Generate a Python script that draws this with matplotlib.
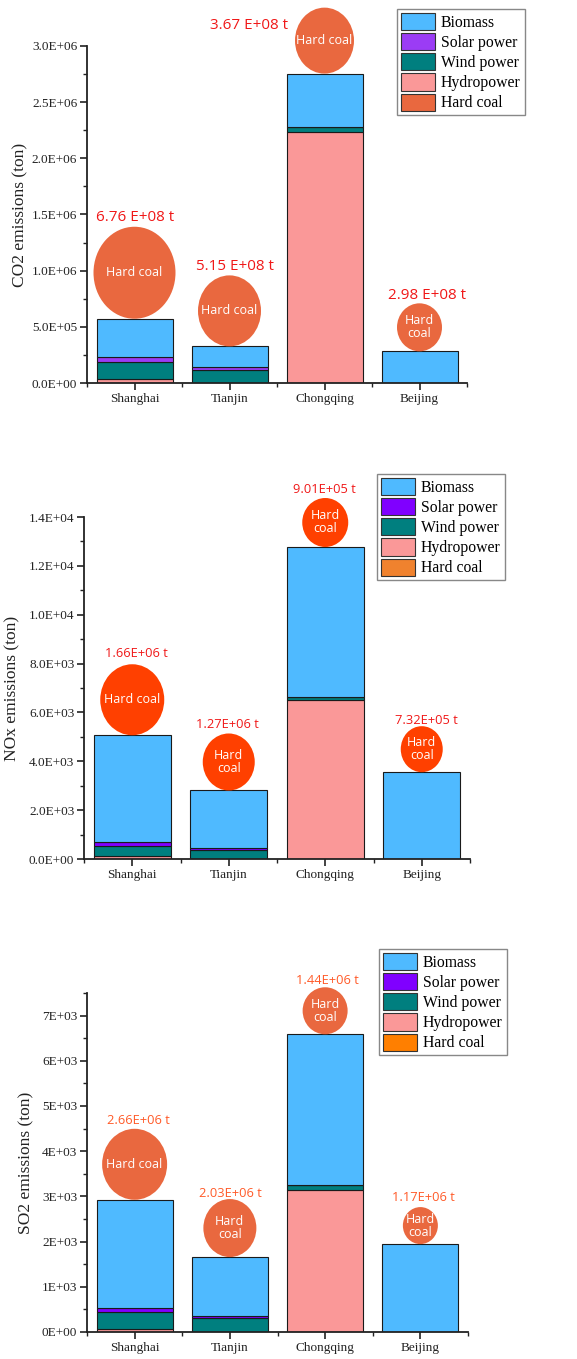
import matplotlib
matplotlib.use("Agg")
import matplotlib.pyplot as plt
from matplotlib.patches import Ellipse, Patch
from matplotlib.ticker import FuncFormatter, MultipleLocator

cities = ["Shanghai", "Tianjin", "Chongqing", "Beijing"]
sources = ["Biomass", "Solar power", "Wind power", "Hydropower", "Hard coal"]

# emissions in ton, stacked bottom to top: hydro, wind, solar, biomass
co2_hydro = [33e3, 0, 2.238e6, 0]
co2_wind = [157e3, 119e3, 41e3, 0]
co2_solar = [44e3, 26e3, 0, 0]
co2_biomass = [338e3, 181e3, 475e3, 282e3]
co2_coal = [6.76e8, 5.15e8, 3.67e8, 2.98e8]

nox_hydro = [109, 0, 6510, 0]
nox_wind = [436, 354, 135, 0]
nox_solar = [163, 82, 0, 0]
nox_biomass = [4358, 2369, 6127, 3554]
nox_coal = [1.66e6, 1.27e6, 9.01e5, 7.32e5]

so2_hydro = [59, 0, 3146, 0]
so2_wind = [376, 309, 111, 0]
so2_solar = [95, 52, 0, 0]
so2_biomass = [2395, 1297, 3330, 1945]
so2_coal = [2.66e6, 2.03e6, 1.44e6, 1.17e6]

FIG_W, FIG_H = 577, 1359
BIOMASS = "#4fbaff"
WIND = "#007f7f"
HYDRO = "#fa9898"

plt.rcParams["font.family"] = ["Liberation Serif", "DejaVu Serif"]
ANNOT_FONT = ["Open Sans", "DejaVu Sans"]


def draw_panel(fig, rect, stack, coal, cfg):
    ax = fig.add_axes(rect)
    x = list(range(len(cities)))
    colors = [HYDRO, WIND, cfg["solar"], BIOMASS]
    bottom = [0.0] * len(cities)
    for vals, col in zip(stack, colors):
        ax.bar(x, vals, 0.8, bottom=bottom, color=col, edgecolor="#1a1a1a", linewidth=0.8, zorder=2)
        bottom = [b + v for b, v in zip(bottom, vals)]

    ax.set_xlim(-0.5, 3.5)
    ax.set_ylim(0, cfg["ymax"])

    # pixel -> data conversion, so the coal bubbles keep their on-screen size
    pos = ax.get_position()
    px_x = pos.width * FIG_W / 4.0
    px_y = pos.height * FIG_H / cfg["ymax"]

    for i, total in enumerate(bottom):
        w, h = cfg["size"][i]
        hd = h / px_y
        ax.add_patch(Ellipse((i, total + hd / 2), w / px_x, hd, facecolor=cfg["circle"],
                             edgecolor="none", clip_on=False, zorder=3))
        ax.text(i, total + hd / 2, cfg["inner"][i], color="white", ha="center", va="center",
                fontsize=9, family=ANNOT_FONT, linespacing=1.0, zorder=4, clip_on=False)
        label = f"{coal[i]:.2E}".replace("E", cfg["sep"] + "E") + " t"
        dx, dy = cfg["offset"][i]
        ax.annotate(label, xy=(i, total + hd), xytext=(dx, dy), textcoords="offset pixels",
                    ha="center", va="center", color=cfg["text"], fontsize=cfg["fs"],
                    family=ANNOT_FONT, annotation_clip=False)

    for side in ["top", "right"]:
        ax.spines[side].set_visible(False)
    for side in ["left", "bottom"]:
        ax.spines[side].set_linewidth(1.3)
        ax.spines[side].set_color("#222222")

    ax.set_xticks(x)
    ax.set_xticklabels(cities, fontsize=9.5, color="#222222")
    ax.xaxis.set_minor_locator(MultipleLocator(1.0, offset=0.5))
    ax.yaxis.set_major_locator(MultipleLocator(cfg["step"]))
    ax.yaxis.set_minor_locator(MultipleLocator(cfg["step"] / 2))
    ax.yaxis.set_major_formatter(FuncFormatter(lambda v, _: cfg["fmt"].format(v)))
    ax.tick_params(axis="both", which="major", length=5, width=1.2, color="#222222",
                   labelsize=9.5, labelcolor="#222222", pad=2)
    ax.tick_params(axis="both", which="minor", length=3, width=1.0, color="#222222")
    ax.set_ylabel(cfg["ylabel"], fontsize=12.5, color="#222222")
    ax.yaxis.set_label_coords(cfg["ylabel_x"], 0.5)

    handles = [Patch(facecolor=c, edgecolor="#333333", linewidth=0.8)
               for c in [BIOMASS, cfg["solar"], WIND, HYDRO, cfg["coal_legend"]]]
    leg = ax.legend(handles, sources, loc="upper left", bbox_to_anchor=cfg["legend_at"],
                    bbox_transform=fig.transFigure, fontsize=11.3, handlelength=2.2,
                    handleheight=1.3, labelspacing=0.15, handletextpad=0.35,
                    borderpad=0.25, borderaxespad=0, fancybox=False, framealpha=1,
                    edgecolor="#888888")
    leg.get_frame().set_linewidth(1.0)
    return ax


def px_rect(left, top, right, bottom):
    return [left / FIG_W, 1 - bottom / FIG_H, (right - left) / FIG_W, (bottom - top) / FIG_H]


def main():
    fig = plt.figure(figsize=(FIG_W / 100, FIG_H / 100), dpi=100)

    draw_panel(fig, px_rect(87, 46, 467, 383),
               [co2_hydro, co2_wind, co2_solar, co2_biomass], co2_coal,
               dict(ymax=3.0e6, step=5e5, fmt="{:.1E}", ylabel="CO2 emissions (ton)",
                    ylabel_x=-0.155, solar="#9b3cf5", circle="#e9683f", coal_legend="#e9683f",
                    text="#f01818", fs=11, sep=" ",
                    size=[(82, 92), (63, 71), (59, 66), (45, 48)],
                    offset=[(1, 9), (6, 9), (-75, -18), (8, 8)],
                    inner=["Hard coal", "Hard coal", "Hard coal", "Hard\ncoal"],
                    legend_at=(397 / FIG_W, 1 - 9 / FIG_H)))

    draw_panel(fig, px_rect(84, 517, 470, 859),
               [nox_hydro, nox_wind, nox_solar, nox_biomass], nox_coal,
               dict(ymax=1.4e4, step=2e3, fmt="{:.1E}", ylabel="NOx emissions (ton)",
                    ylabel_x=-0.166, solar="#8000ff", circle="#ff4000", coal_legend="#f0822e",
                    text="#f01818", fs=9.3, sep="",
                    size=[(64, 71), (52, 57), (46, 49), (42, 46)],
                    offset=[(4, 11), (-1, 9), (-1, 8), (5, 6)],
                    inner=["Hard coal", "Hard\ncoal", "Hard\ncoal", "Hard\ncoal"],
                    legend_at=(377 / FIG_W, 1 - 474 / FIG_H)))

    draw_panel(fig, px_rect(87, 993, 468, 1332),
               [so2_hydro, so2_wind, so2_solar, so2_biomass], so2_coal,
               dict(ymax=7.5e3, step=1e3, fmt="{:.0E}", ylabel="SO2 emissions (ton)",
                    ylabel_x=-0.139, solar="#8000ff", circle="#e9683f", coal_legend="#ff7f00",
                    text="#ff5a28", fs=9.3, sep="",
                    size=[(65, 71), (53, 58), (45, 47), (35, 37)],
                    offset=[(4, 8), (1, 6), (2, 7), (3, 10)],
                    inner=["Hard coal", "Hard\ncoal", "Hard\ncoal", "Hard\ncoal"],
                    legend_at=(379 / FIG_W, 1 - 949 / FIG_H)))

    fig.savefig("out.png", dpi=100)


if __name__ == "__main__":
    main()
